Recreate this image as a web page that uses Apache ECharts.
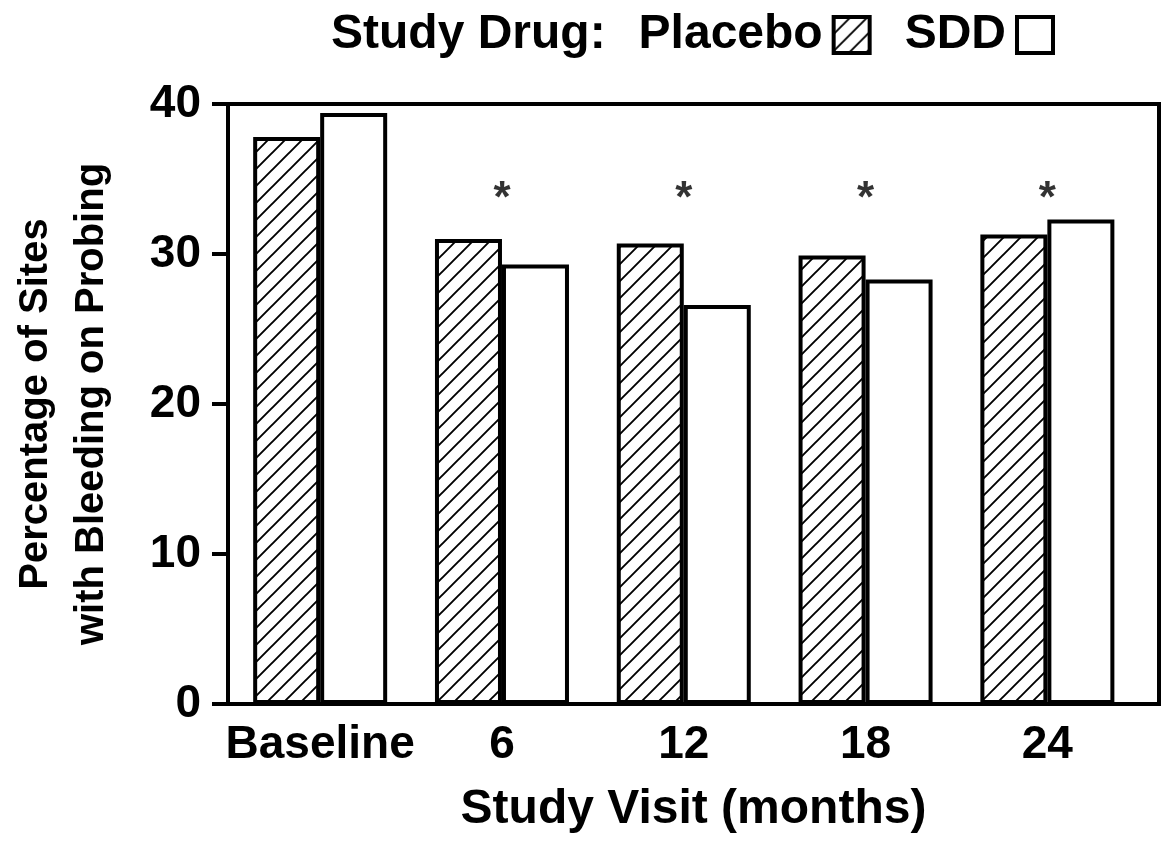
<!DOCTYPE html>
<html>
<head>
<meta charset="utf-8">
<script src="https://cdn.jsdelivr.net/npm/echarts@6/dist/echarts.min.js"></script>
<style>
  html, body { margin: 0; padding: 0; background: #fff; }
  #chart { width: 1161px; height: 844px; }
</style>
</head>
<body>
<div id="chart"></div>
<script>
// Study visits (categories) and the two treatment arms
const visits = ['Baseline', '6', '12', '18', '24'];
const placebo = [37.8, 31.0, 30.7, 29.9, 31.3];
const sdd = [39.4, 29.3, 26.6, 28.3, 32.3];
// visits with a significant difference between arms
const significant = [false, true, true, true, true];
const yTicks = [0, 10, 20, 30, 40];

const FONT = "'Liberation Sans', Arial, Helvetica, sans-serif";

// diagonal hatch tile for the placebo bars
function hatchPattern() {
  const s = 17;
  const c = document.createElement('canvas');
  c.width = s; c.height = s;
  const g = c.getContext('2d');
  g.fillStyle = '#fff';
  g.fillRect(0, 0, s, s);
  g.strokeStyle = '#000';
  g.lineWidth = 1.9;
  g.beginPath();
  g.moveTo(-2, s + 2); g.lineTo(s + 2, -2);
  g.moveTo(-2, 2); g.lineTo(2, -2);
  g.moveTo(s - 2, s + 2); g.lineTo(s + 2, s - 2);
  g.stroke();
  return c;
}

const chart = echarts.init(document.getElementById('chart'), null, { renderer: 'canvas' });

const starLevel = 33.6;
const starData = [];
significant.forEach((f, i) => { if (f) starData.push([i, starLevel]); });

const option = {
  animation: false,
  backgroundColor: '#fff',
  title: {
    text: 'Study Drug:',
    left: 326,
    top: 6,
    textStyle: { fontFamily: FONT, fontWeight: 'bold', fontSize: 48, color: '#000' }
  },
  legend: {
    data: ['Placebo', 'SDD'],
    right: 101,
    top: 6,
    align: 'right',
    icon: 'rect',
    itemWidth: 36,
    itemHeight: 36,
    itemGap: 33,
    itemStyle: { borderColor: '#000', borderWidth: 4 },
    textStyle: { fontFamily: FONT, fontWeight: 'bold', fontSize: 48, color: '#000', padding: [0, 6, 0, 0] }
  },
  grid: {
    left: 225, right: 2, top: 104, bottom: 140,
    show: true, borderColor: '#000', borderWidth: 4, backgroundColor: 'transparent'
  },
  xAxis: {
    type: 'value',
    min: -0.507,
    max: 4.614,
    splitLine: { show: false },
    axisLine: { show: true, onZero: false, lineStyle: { color: '#000', width: 4 } },
    axisTick: { show: false },
    axisLabel: {
      customValues: visits.map((v, i) => i),
      formatter: (v) => visits[Math.round(v)],
      margin: 18,
      fontFamily: FONT, fontWeight: 'bold', fontSize: 46, color: '#000'
    },
    name: 'Study Visit (months)',
    nameLocation: 'middle',
    nameGap: 82,
    nameTextStyle: { fontFamily: FONT, fontWeight: 'bold', fontSize: 48, color: '#000' }
  },
  yAxis: {
    type: 'value',
    min: yTicks[0],
    max: yTicks[yTicks.length - 1],
    interval: 10,
    splitLine: { show: false },
    axisLine: { show: true, onZero: false, lineStyle: { color: '#000', width: 4 } },
    axisTick: { show: true, inside: false, length: 16, lineStyle: { color: '#000', width: 4 } },
    axisLabel: {
      margin: 27,
      fontFamily: FONT, fontWeight: 'bold', fontSize: 46, color: '#000'
    },
    name: 'Percentage of Sites\nwith Bleeding on Probing',
    nameLocation: 'middle',
    nameRotate: 90,
    nameGap: 108,
    nameTextStyle: { fontFamily: FONT, fontWeight: 'bold', fontSize: 40, lineHeight: 56, color: '#000' }
  },
  series: [
    {
      name: 'Placebo',
      type: 'bar',
      barWidth: 67,
      barGap: '0%',
      data: placebo.map((v, i) => [i, v]),
      itemStyle: {
        color: { image: hatchPattern(), repeat: 'repeat' },
        borderColor: '#000',
        borderWidth: 4
      }
    },
    {
      name: 'SDD',
      type: 'bar',
      barWidth: 67,
      barGap: '0%',
      data: sdd.map((v, i) => [i, v]),
      itemStyle: { color: '#fff', borderColor: '#000', borderWidth: 4 }
    },
    {
      name: 'significance',
      type: 'scatter',
      symbolSize: 1,
      itemStyle: { color: 'transparent' },
      data: starData,
      label: {
        show: true,
        position: 'inside',
        formatter: '*',
        fontFamily: FONT, fontWeight: 'bold', fontSize: 44, color: '#000'
      },
      silent: true
    }
  ]
};

chart.setOption(option);
</script>
</body>
</html>
